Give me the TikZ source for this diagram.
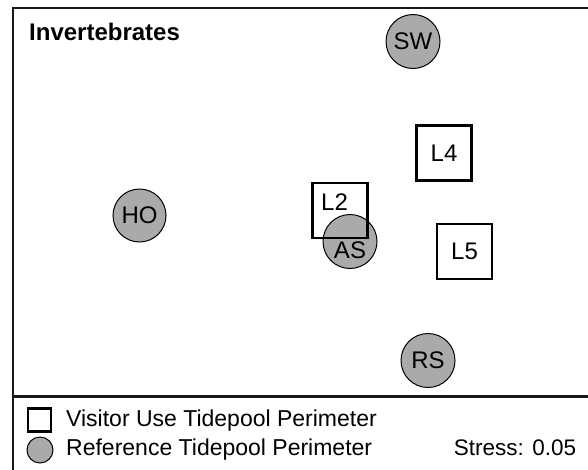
\documentclass[tikz,border=0pt]{standalone}
\usepackage{fontspec}
\setmainfont{Liberation Sans}
\definecolor{poolgray}{RGB}{170,170,170}
\tikzset{
  refpool/.style={circle, draw=black, line width=1pt, fill=poolgray, inner sep=0pt, minimum size=#1, font=\fontsize{24}{27}\selectfont},
  visitpool/.style={rectangle, draw=black, line width=2.6pt, inner sep=0pt, minimum size=#1, font=\fontsize{24}{27}\selectfont},
  lbl/.style={inner sep=0pt, font=\fontsize{24}{27}\selectfont},
  legtext/.style={inner sep=0pt, anchor=base west, font=\fontsize{23}{26}\selectfont},
  frame/.style={line width=2.3pt, black!90}
}
\begin{document}
\begin{tikzpicture}[x=1pt,y=-1pt]
\useasboundingbox (0,0) rectangle (588,469);
% frame
\coordinate (tl) at (13.3,7.8);
\coordinate (tr) at (600,7.8);
\coordinate (bl) at (13.3,480);
\coordinate (sl) at (13.3,396.5);
\coordinate (sr) at (600,396.5);
\draw[frame, line cap=rect] (tr) -- (tl) -- (bl);
\draw[frame, line width=3pt] (sl) -- (sr);
% title
\node[inner sep=0pt, anchor=base west, font=\bfseries\fontsize{24}{28}\selectfont] (title) at (29,40.7) {Invertebrates};
% reference pools
\node[refpool=54] (SW) at (413,41.5) {SW};
\node[refpool=53] (HO) at (139.5,215.5) {HO};
\node[refpool=54] (RS) at (428,360.5) {RS};
\node[refpool=54] (AS) at (350,241.5) {};
% visitor pools
\node[visitpool=55] (L4) at (444,153) {L4};
\node[visitpool=55] (L5) at (464.5,251.5) {L5};
\node[visitpool=55] (L2) at (340,210.5) {};
\node[lbl] (L2t) at (334.5,202.5) {L2};
\node[lbl] (ASt) at (350,250.5) {AS};
% legend
\node[rectangle, draw=black, line width=2.6pt, inner sep=0pt, minimum size=23] (legsq) at (39.5,420) {};
\node[circle, draw=black, line width=1pt, fill=poolgray, inner sep=0pt, minimum size=26] (legci) at (40,450) {};
\node[legtext] (legvis) at (66,426.7) {Visitor Use Tidepool Perimeter};
\node[legtext] (legref) at (66,455) {Reference Tidepool Perimeter};
\node[legtext, font=\fontsize{22.5}{26}\selectfont] (stress) at (453.7,455) {Stress: 0.05};
\end{tikzpicture}
\end{document}
